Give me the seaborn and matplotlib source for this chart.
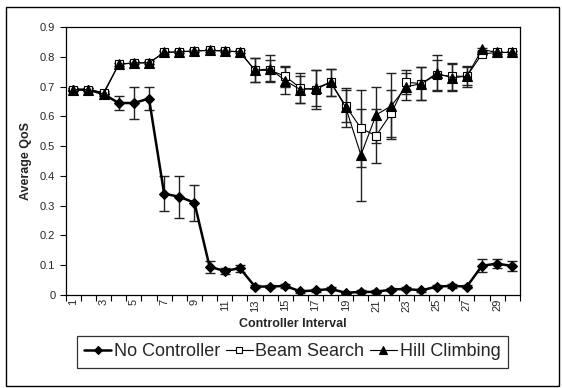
import numpy as np
import pandas as pd
import matplotlib
matplotlib.use("Agg")
import matplotlib.pyplot as plt
import seaborn as sns
from matplotlib.patches import Rectangle

intervals = list(range(1, 31))
no_ctrl = [0.69, 0.69, 0.675, 0.645, 0.645, 0.66, 0.34, 0.33, 0.31, 0.095,
           0.08, 0.09, 0.028, 0.028, 0.03, 0.012, 0.015, 0.02, 0.007, 0.01,
           0.01, 0.018, 0.02, 0.015, 0.028, 0.03, 0.028, 0.098, 0.105, 0.097]
no_ctrl_err = [0.005, 0.005, 0.008, 0.025, 0.055, 0.04, 0.058, 0.07, 0.06, 0.02,
               0.01, 0.012, 0.005, 0.006, 0.006, 0.005, 0.005, 0.005, 0.004, 0.005,
               0.005, 0.005, 0.005, 0.005, 0.005, 0.008, 0.006, 0.022, 0.015, 0.018]
beam = [0.69, 0.69, 0.68, 0.775, 0.78, 0.78, 0.815, 0.817, 0.82, 0.822,
        0.82, 0.817, 0.755, 0.755, 0.735, 0.695, 0.69, 0.715, 0.635, 0.56,
        0.535, 0.61, 0.715, 0.71, 0.74, 0.735, 0.735, 0.81, 0.815, 0.815]
beam_err = [0.004, 0.004, 0.005, 0.005, 0.005, 0.005, 0.005, 0.005, 0.005, 0.005,
            0.005, 0.005, 0.04, 0.035, 0.035, 0.05, 0.065, 0.045, 0.055, 0.13,
            0.09, 0.08, 0.04, 0.055, 0.05, 0.045, 0.03, 0.005, 0.005, 0.005]
hill = [0.69, 0.69, 0.675, 0.775, 0.78, 0.78, 0.815, 0.817, 0.82, 0.822,
        0.82, 0.817, 0.755, 0.76, 0.72, 0.69, 0.695, 0.715, 0.63, 0.47,
        0.605, 0.635, 0.70, 0.71, 0.745, 0.73, 0.735, 0.825, 0.815, 0.815]
hill_err = [0.004, 0.004, 0.005, 0.005, 0.005, 0.005, 0.005, 0.005, 0.005, 0.005,
            0.005, 0.005, 0.04, 0.045, 0.045, 0.045, 0.06, 0.045, 0.065, 0.155,
            0.095, 0.11, 0.045, 0.055, 0.06, 0.045, 0.035, 0.005, 0.005, 0.005]
y_ticks = [0, 0.1, 0.2, 0.3, 0.4, 0.5, 0.6, 0.7, 0.8, 0.9]
y_tick_labels = ["0", "0.1", "0.2", "0.3", "0.4", "0.5", "0.6", "0.7", "0.8", "0.9"]
x_tick_labels = [str(i) for i in range(1, 31, 2)]

sns.set_style("white")
plt.rcParams['font.family'] = ['Liberation Sans', 'DejaVu Sans']

fig = plt.figure(figsize=(5.62, 3.88), dpi=100)
fig.patches.append(Rectangle((0.010, 0.005), 0.984, 0.978, transform=fig.transFigure,
                             fill=False, edgecolor='black', linewidth=1.0))
ax = fig.add_axes([0.117, 0.240, 0.808, 0.690])

df = pd.DataFrame({
    "Interval": intervals * 3,
    "QoS": no_ctrl + beam + hill,
    "Series": ["No Controller"] * 30 + ["Beam Search"] * 30 + ["Hill Climbing"] * 30,
})

specs = [
    ("No Controller", no_ctrl, no_ctrl_err, 'D', 'black', 'black', 4.8, 1.8),
    ("Beam Search", beam, beam_err, 's', 'white', 'black', 6.2, 0.8),
    ("Hill Climbing", hill, hill_err, '^', 'black', 'black', 6.5, 0.8),
]
for name, vals, errs, mk, fc, ec, ms, lw in specs:
    ax.errorbar(intervals, vals, yerr=errs, fmt='none', ecolor='#222222',
                elinewidth=1.0, capsize=3.5, capthick=1.0, zorder=2)
    sub = df[df["Series"] == name]
    sns.lineplot(data=sub, x="Interval", y="QoS", ax=ax, color='black',
                 linewidth=lw, marker=mk, markersize=ms, markerfacecolor=fc,
                 markeredgecolor=ec, markeredgewidth=0.8, label=name, zorder=3)

ax.set_xlim(0.5, 30.5)
ax.set_ylim(0, 0.9)
ax.set_yticks(y_ticks)
ax.set_yticklabels(y_tick_labels, fontsize=8)
ax.set_xticks(list(range(1, 31, 2)))
ax.set_xticklabels(x_tick_labels, rotation=90, fontsize=8)
ax.set_xticks(np.arange(0.5, 31, 1.0), minor=True)
ax.tick_params(axis='x', which='major', length=0, pad=3)
ax.tick_params(axis='x', which='minor', length=4, width=0.8, direction='out', color='black', bottom=True)
ax.tick_params(axis='y', which='major', length=4, width=0.8, direction='out', color='black', left=True)
for s in ax.spines.values():
    s.set_color('black')
    s.set_linewidth(0.9)
ax.set_xlabel("Controller Interval", fontsize=9, fontweight='bold', labelpad=5)
ax.set_ylabel("Average QoS", fontsize=9, fontweight='bold', labelpad=6)

handles, labels = ax.get_legend_handles_labels()
leg = fig.legend(handles, labels, loc='center', bbox_to_anchor=(0.52, 0.093), ncol=3,
                 fontsize=13, frameon=True, fancybox=False, edgecolor='black',
                 handlelength=1.5, handletextpad=0.15, columnspacing=0.3,
                 borderpad=0.4, markerscale=0.8)
leg.get_frame().set_linewidth(0.9)
ax.get_legend().remove()

fig.savefig("out.png", dpi=100)
